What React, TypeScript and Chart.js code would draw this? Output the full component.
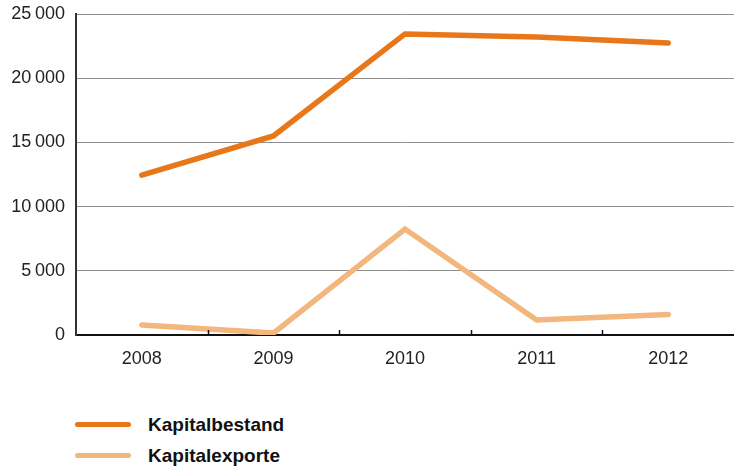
import React, { useEffect, useRef } from "react";
import { Chart, registerables } from "chart.js";

Chart.register(...registerables);

const categories = ["2008", "2009", "2010", "2011", "2012"];
const kapitalbestand = [12450, 15500, 23450, 23200, 22750];
const kapitalexporte = [780, 150, 8250, 1170, 1600];
const yTicks = [0, 5000, 10000, 15000, 20000, 25000];

const seriesNames = ["Kapitalbestand", "Kapitalexporte"];
const seriesColors = ["#E8771A", "#F2B67E"];

const FONT = "'Liberation Sans', Arial, Helvetica, sans-serif";

function fmt(v: number): string {
  const s = String(Math.round(v));
  return s.replace(/\B(?=(\d{3})+(?!\d))/g, "\u2009");
}

const boundaryTicks = {
  id: "boundaryTicks",
  afterDraw(chart: any) {
    const x = chart.scales.x;
    const ctx = chart.ctx;
    const bottom = chart.chartArea.bottom;
    ctx.save();
    ctx.strokeStyle = "#111";
    ctx.lineWidth = 1.5;
    for (let i = 0; i < categories.length - 1; i++) {
      const px = (x.getPixelForTick(i) + x.getPixelForTick(i + 1)) / 2;
      ctx.beginPath();
      ctx.moveTo(Math.round(px) + 0.5, bottom);
      ctx.lineTo(Math.round(px) + 0.5, bottom - 5);
      ctx.stroke();
    }
    ctx.restore();
  },
};

export default function App() {
  const ref = useRef<HTMLCanvasElement | null>(null);

  useEffect(() => {
    if (!ref.current) return;
    const chart = new Chart(ref.current, {
      type: "line",
      data: {
        labels: categories,
        datasets: [
          {
            label: seriesNames[0],
            data: kapitalbestand,
            borderColor: seriesColors[0],
            backgroundColor: seriesColors[0],
            borderWidth: 5.5,
            pointRadius: 0,
            tension: 0,
            borderCapStyle: "round",
            borderJoinStyle: "miter",
          },
          {
            label: seriesNames[1],
            data: kapitalexporte,
            borderColor: seriesColors[1],
            backgroundColor: seriesColors[1],
            borderWidth: 5.5,
            pointRadius: 0,
            tension: 0,
            borderCapStyle: "round",
            borderJoinStyle: "miter",
          },
        ],
      },
      options: {
        responsive: false,
        animation: false,
        layout: { padding: { top: 14, left: 0, right: 0, bottom: 0 } },
        plugins: {
          legend: { display: false },
          tooltip: { enabled: false },
        },
        scales: {
          x: {
            offset: true,
            grid: { display: true, drawOnChartArea: false, drawTicks: false },
            border: { display: true, color: "#111", width: 2 },
            ticks: {
              font: { family: FONT, size: 18 },
              color: "#222",
              padding: 13,
              maxRotation: 0,
            },
            afterFit: (s: any) => {
              s.height = 45;
              s.paddingLeft = 0;
              s.paddingRight = 0;
            },
          },
          y: {
            min: 0,
            max: 25000,
            afterBuildTicks: (s: any) => {
              s.ticks = yTicks.map((v) => ({ value: v }));
            },
            grid: { color: "#8f8f8f", lineWidth: 1, drawTicks: false },
            border: { display: true, color: "#333", width: 2 },
            ticks: {
              font: { family: FONT, size: 18 },
              color: "#222",
              padding: 11,
              callback: (v: any) => fmt(Number(v)),
            },
            afterFit: (s: any) => {
              s.width = 76;
              s.paddingTop = 0;
              s.paddingBottom = 0;
            },
          },
        },
      },
      plugins: [boundaryTicks],
    });
    return () => chart.destroy();
  }, []);

  return (
    <div
      style={{
        position: "fixed",
        left: 0,
        top: 0,
        width: 734,
        height: 468,
        background: "#fff",
        overflow: "hidden",
      }}
    >
      <canvas ref={ref} width={734} height={380} style={{ display: "block" }} />
      <div style={{ position: "absolute", left: 75, top: 409 }}>
        {seriesNames.map((name, i) => (
          <div
            key={name}
            style={{ display: "flex", alignItems: "center", height: 31 }}
          >
            <div
              style={{
                width: 56,
                height: 5,
                borderRadius: 3,
                background: seriesColors[i],
              }}
            />
            <span
              style={{
                marginLeft: 17,
                fontFamily: FONT,
                fontWeight: "bold",
                fontSize: 19,
                color: "#111",
              }}
            >
              {name}
            </span>
          </div>
        ))}
      </div>
    </div>
  );
}
